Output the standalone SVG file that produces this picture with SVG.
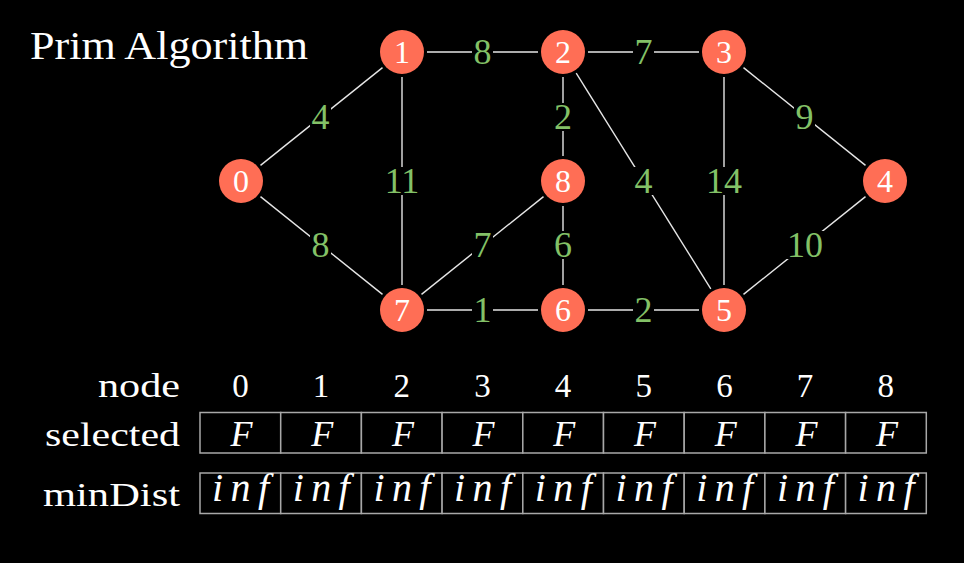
<svg xmlns="http://www.w3.org/2000/svg" width="964" height="563" viewBox="0 0 964 563">
  <style>
    .txt { font-family: "Liberation Serif", "DejaVu Serif", serif; fill: #ffffff; }
    .node circle { fill: #ff6e55; }
    .node text { font-family: "Liberation Serif", "DejaVu Serif", serif; font-size: 32px; fill: #ffffff; text-anchor: middle; }
    .edge line { stroke: #e6e6e6; stroke-width: 1.4; }
    .wlab rect { fill: #000000; }
    .wlab text { font-family: "Liberation Serif", "DejaVu Serif", serif; font-size: 36px; fill: #83c167; text-anchor: middle; }
    .cell { fill: #000000; stroke: #a8a8a8; stroke-width: 1.5; }
    .idx { font-family: "Liberation Serif", "DejaVu Serif", serif; font-size: 33px; fill: #ffffff; text-anchor: middle; }
    .val { font-family: "Liberation Serif", "DejaVu Serif", serif; font-style: italic; font-size: 36px; fill: #ffffff; }
    .inf { font-family: "Liberation Serif", "DejaVu Serif", serif; font-style: italic; font-size: 40px; fill: #ffffff; }
    .rowlab { font-family: "Liberation Serif", "DejaVu Serif", serif; font-size: 34px; fill: #ffffff; }
  </style>
  <rect width="964" height="563" fill="#000000"/>

  <text class="txt" x="30" y="59" font-size="40" textLength="278" lengthAdjust="spacingAndGlyphs">Prim Algorithm</text>

  <!-- connectors -->
  <g id="edges">
    <g class="edge" id="e0-1"><line x1="260.5" y1="165.4" x2="382.5" y2="67.6"/></g>
    <g class="edge" id="e0-7"><line x1="260.5" y1="196.6" x2="382.5" y2="294.4"/></g>
    <g class="edge" id="e1-2"><line x1="427" y1="52" x2="538" y2="52"/></g>
    <g class="edge" id="e1-7"><line x1="402" y1="77" x2="402" y2="285"/></g>
    <g class="edge" id="e2-3"><line x1="588" y1="52" x2="699" y2="52"/></g>
    <g class="edge" id="e2-8"><line x1="563" y1="77" x2="563" y2="156"/></g>
    <g class="edge" id="e2-5"><line x1="576.2" y1="73.2" x2="710.8" y2="288.8"/></g>
    <g class="edge" id="e3-4"><line x1="743.5" y1="67.6" x2="865.5" y2="165.4"/></g>
    <g class="edge" id="e3-5"><line x1="724" y1="77" x2="724" y2="285"/></g>
    <g class="edge" id="e4-5"><line x1="865.5" y1="196.6" x2="743.5" y2="294.4"/></g>
    <g class="edge" id="e7-8"><line x1="421.5" y1="294.4" x2="543.5" y2="196.6"/></g>
    <g class="edge" id="e8-6"><line x1="563" y1="206" x2="563" y2="285"/></g>
    <g class="edge" id="e7-6"><line x1="427" y1="310" x2="538" y2="310"/></g>
    <g class="edge" id="e6-5"><line x1="588" y1="310" x2="699" y2="310"/></g>

    <!-- edge weights -->
    <g class="wlab"><rect x="310" y="103" width="21" height="28"/><text x="320.5" y="129">4</text></g>
    <g class="wlab"><rect x="310" y="231" width="21" height="28"/><text x="320.5" y="257">8</text></g>
    <g class="wlab"><rect x="472" y="38" width="21" height="28"/><text x="482.5" y="64">8</text></g>
    <g class="wlab"><rect x="383" y="167" width="38" height="28"/><text x="402" y="193">11</text></g>
    <g class="wlab"><rect x="633" y="38" width="21" height="28"/><text x="643.5" y="64">7</text></g>
    <g class="wlab"><rect x="552" y="103" width="22" height="28"/><text x="563" y="129">2</text></g>
    <g class="wlab"><rect x="633" y="167" width="21" height="28"/><text x="643.5" y="193">4</text></g>
    <g class="wlab"><rect x="705" y="167" width="38" height="28"/><text x="724" y="193">14</text></g>
    <g class="wlab"><rect x="794" y="103" width="21" height="28"/><text x="804.5" y="129">9</text></g>
    <g class="wlab"><rect x="786" y="231" width="38" height="28"/><text x="805" y="257">10</text></g>
    <g class="wlab"><rect x="472" y="231" width="21" height="28"/><text x="482.5" y="257">7</text></g>
    <g class="wlab"><rect x="552" y="231" width="22" height="28"/><text x="563" y="257">6</text></g>
    <g class="wlab"><rect x="472" y="296" width="21" height="28"/><text x="482.5" y="322">1</text></g>
    <g class="wlab"><rect x="633" y="296" width="21" height="28"/><text x="643.5" y="322">2</text></g>
  </g>

  <!-- graph nodes -->
  <g class="node" id="n0"><circle cx="241" cy="181" r="22"/><text x="241" y="192">0</text></g>
  <g class="node" id="n1"><circle cx="402" cy="52" r="22"/><text x="402" y="63">1</text></g>
  <g class="node" id="n2"><circle cx="563" cy="52" r="22"/><text x="563" y="63">2</text></g>
  <g class="node" id="n3"><circle cx="724" cy="52" r="22"/><text x="724" y="63">3</text></g>
  <g class="node" id="n4"><circle cx="885" cy="181" r="22"/><text x="885" y="192">4</text></g>
  <g class="node" id="n5"><circle cx="724" cy="310" r="22"/><text x="724" y="321">5</text></g>
  <g class="node" id="n6"><circle cx="563" cy="310" r="22"/><text x="563" y="321">6</text></g>
  <g class="node" id="n7"><circle cx="402" cy="310" r="22"/><text x="402" y="321">7</text></g>
  <g class="node" id="n8"><circle cx="563" cy="181" r="22"/><text x="563" y="192">8</text></g>

  <!-- state table -->
  <g id="table">
    <text class="rowlab" x="98" y="397" textLength="82" lengthAdjust="spacingAndGlyphs">node</text>
    <text class="rowlab" x="45" y="446" textLength="135" lengthAdjust="spacingAndGlyphs">selected</text>
    <text class="rowlab" x="43" y="506" textLength="137" lengthAdjust="spacingAndGlyphs">minDist</text>

    <g id="idx">
      <text class="idx" x="240.4" y="397">0</text>
      <text class="idx" x="321" y="397">1</text>
      <text class="idx" x="401.7" y="397">2</text>
      <text class="idx" x="482.4" y="397">3</text>
      <text class="idx" x="563" y="397">4</text>
      <text class="idx" x="643.7" y="397">5</text>
      <text class="idx" x="724.4" y="397">6</text>
      <text class="idx" x="805" y="397">7</text>
      <text class="idx" x="885.7" y="397">8</text>
    </g>

    <g id="selected">
      <rect class="cell" x="200" y="412.5" width="80.7" height="40.5"/>
      <rect class="cell" x="280.7" y="412.5" width="80.7" height="40.5"/>
      <rect class="cell" x="361.4" y="412.5" width="80.7" height="40.5"/>
      <rect class="cell" x="442.1" y="412.5" width="80.7" height="40.5"/>
      <rect class="cell" x="522.8" y="412.5" width="80.7" height="40.5"/>
      <rect class="cell" x="603.5" y="412.5" width="80.7" height="40.5"/>
      <rect class="cell" x="684.2" y="412.5" width="80.7" height="40.5"/>
      <rect class="cell" x="764.9" y="412.5" width="80.7" height="40.5"/>
      <rect class="cell" x="845.6" y="412.5" width="80.7" height="40.5"/>
      <text class="val" text-anchor="middle" x="241.5" y="446">F</text>
      <text class="val" text-anchor="middle" x="322.2" y="446">F</text>
      <text class="val" text-anchor="middle" x="402.9" y="446">F</text>
      <text class="val" text-anchor="middle" x="483.6" y="446">F</text>
      <text class="val" text-anchor="middle" x="564.3" y="446">F</text>
      <text class="val" text-anchor="middle" x="645" y="446">F</text>
      <text class="val" text-anchor="middle" x="725.7" y="446">F</text>
      <text class="val" text-anchor="middle" x="806.4" y="446">F</text>
      <text class="val" text-anchor="middle" x="887.1" y="446">F</text>
    </g>

    <g id="minDist">
      <rect class="cell" x="200" y="473" width="80.7" height="40.5"/>
      <rect class="cell" x="280.7" y="473" width="80.7" height="40.5"/>
      <rect class="cell" x="361.4" y="473" width="80.7" height="40.5"/>
      <rect class="cell" x="442.1" y="473" width="80.7" height="40.5"/>
      <rect class="cell" x="522.8" y="473" width="80.7" height="40.5"/>
      <rect class="cell" x="603.5" y="473" width="80.7" height="40.5"/>
      <rect class="cell" x="684.2" y="473" width="80.7" height="40.5"/>
      <rect class="cell" x="764.9" y="473" width="80.7" height="40.5"/>
      <rect class="cell" x="845.6" y="473" width="80.7" height="40.5"/>
      <text class="inf" x="212" y="501" textLength="57" lengthAdjust="spacing">inf</text>
      <text class="inf" x="292.7" y="501" textLength="57" lengthAdjust="spacing">inf</text>
      <text class="inf" x="373.4" y="501" textLength="57" lengthAdjust="spacing">inf</text>
      <text class="inf" x="454.1" y="501" textLength="57" lengthAdjust="spacing">inf</text>
      <text class="inf" x="534.8" y="501" textLength="57" lengthAdjust="spacing">inf</text>
      <text class="inf" x="615.5" y="501" textLength="57" lengthAdjust="spacing">inf</text>
      <text class="inf" x="696.2" y="501" textLength="57" lengthAdjust="spacing">inf</text>
      <text class="inf" x="776.9" y="501" textLength="57" lengthAdjust="spacing">inf</text>
      <text class="inf" x="857.6" y="501" textLength="57" lengthAdjust="spacing">inf</text>
    </g>
  </g>
</svg>
